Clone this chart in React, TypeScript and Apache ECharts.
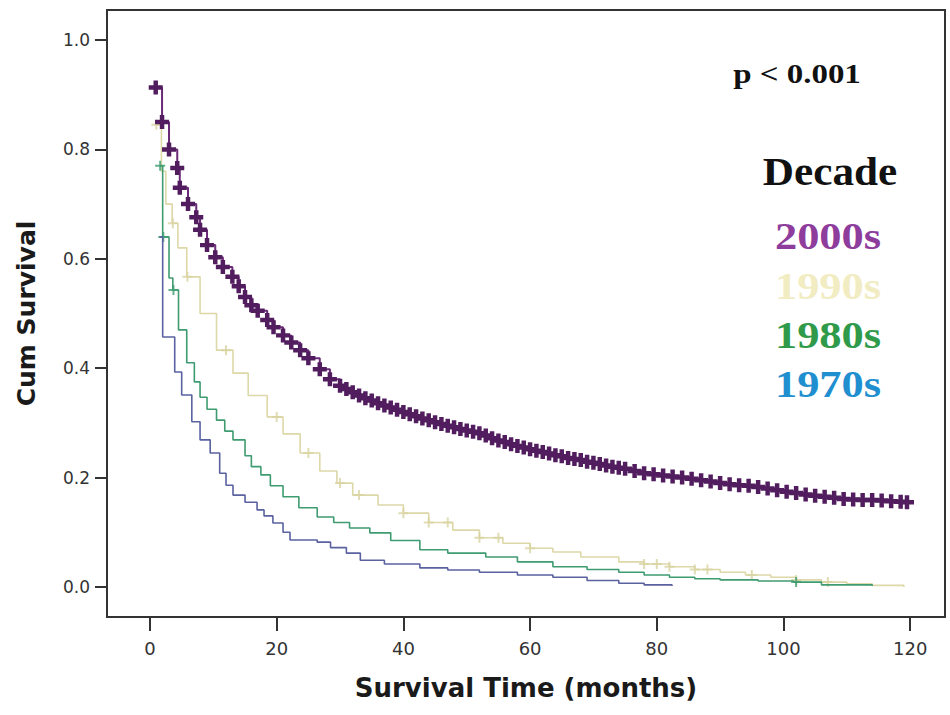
import React, { useEffect, useRef } from "react";
import * as echarts from "echarts";

// ---- Data ----
const xTicks = [0, 20, 40, 60, 80, 100, 120];
const yTicks = [0.0, 0.2, 0.4, 0.6, 0.8, 1.0];

// 2000s (censor marks at nearly every point)
const t2000 = [0.9, 1.9, 3.0, 4.3, 4.7, 6.0, 7.3, 7.9, 9.0, 10.3, 11.5, 13, 14, 15, 16, 17, 18.5, 19.5, 21, 22.3, 23.7, 25, 26.8, 28.4, 30, 31, 32, 33, 34, 35, 36, 37, 38, 39, 40, 41, 42, 43, 44, 45, 46, 47, 48, 49, 50, 51, 52, 53, 54, 55, 56, 57, 58, 59, 60, 61, 62, 63, 64, 65, 66, 67, 68, 69, 70, 71, 72, 73, 74, 75, 76.5, 78, 79.5, 81, 82.5, 84, 85.5, 87, 88.5, 90, 91.5, 93, 94.5, 96, 97.5, 99, 100.5, 102, 103.5, 105, 106.5, 108, 109.5, 111, 112.5, 114, 115.5, 117, 118.5, 119.5];
const s2000 = [0.913, 0.85, 0.80, 0.766, 0.73, 0.70, 0.676, 0.653, 0.625, 0.603, 0.585, 0.567, 0.55, 0.53, 0.515, 0.505, 0.488, 0.475, 0.46, 0.447, 0.433, 0.418, 0.398, 0.38, 0.368, 0.362, 0.356, 0.35, 0.345, 0.341, 0.336, 0.332, 0.328, 0.324, 0.32, 0.316, 0.312, 0.308, 0.305, 0.301, 0.298, 0.295, 0.292, 0.289, 0.286, 0.284, 0.281, 0.277, 0.272, 0.268, 0.265, 0.261, 0.258, 0.255, 0.252, 0.249, 0.247, 0.244, 0.241, 0.239, 0.236, 0.234, 0.232, 0.229, 0.227, 0.225, 0.222, 0.22, 0.218, 0.216, 0.212, 0.208, 0.206, 0.204, 0.202, 0.2, 0.198, 0.195, 0.193, 0.19, 0.188, 0.186, 0.185, 0.183, 0.18, 0.177, 0.174, 0.172, 0.169, 0.167, 0.165, 0.163, 0.161, 0.16, 0.159, 0.159, 0.158, 0.157, 0.156, 0.155];

// 1990s
const t1990 = [0.9, 1.8, 2.5, 3.5, 4.4, 5.8, 7.9, 10.5, 13.1, 15.5, 18.5, 21, 23.7, 26.8, 29.5, 32, 36, 40, 44, 47.8, 52, 55.7, 60, 63.6, 68, 74, 78, 82, 86, 90, 94, 98, 102, 106, 110, 114, 119];
const s1990 = [0.845, 0.76, 0.70, 0.665, 0.62, 0.567, 0.50, 0.433, 0.391, 0.35, 0.311, 0.28, 0.245, 0.212, 0.19, 0.168, 0.15, 0.135, 0.118, 0.104, 0.09, 0.08, 0.071, 0.064, 0.055, 0.046, 0.042, 0.037, 0.032, 0.027, 0.022, 0.018, 0.013, 0.009, 0.006, 0.003, 0.0];
const c1990 = [1.0, 3.6, 5.9, 12, 20, 25, 30, 33, 40, 44, 47, 52, 55, 60, 78, 80, 82, 86, 88, 95, 102, 107];

// 1980s
const t1980 = [1.5, 2.0, 3.0, 3.6, 4.5, 5.8, 7, 7.9, 9, 10.5, 11.8, 13.1, 15, 16, 17.5, 19, 21, 23.5, 26.4, 29, 31.5, 34.7, 38, 42.6, 47, 53, 58, 63.6, 69, 74, 78, 82, 86, 90, 96, 101.6, 106, 114];
const s1980 = [0.77, 0.64, 0.565, 0.543, 0.47, 0.41, 0.375, 0.347, 0.325, 0.305, 0.285, 0.269, 0.24, 0.22, 0.205, 0.185, 0.165, 0.145, 0.128, 0.118, 0.108, 0.099, 0.085, 0.068, 0.062, 0.055, 0.046, 0.037, 0.032, 0.027, 0.022, 0.018, 0.015, 0.013, 0.011, 0.009, 0.004, 0.002];
const c1980 = [1.6, 2.1, 3.7, 102];

// 1970s
const t1970 = [1.5, 2.0, 3.9, 5, 6.6, 7.9, 9.5, 11, 12, 13.1, 15, 16.9, 18, 19.4, 21, 22.1, 26.4, 28.5, 31, 33.2, 37, 42.6, 47, 52, 58, 63.6, 69, 74, 78, 82.4];
const s1970 = [0.64, 0.457, 0.393, 0.351, 0.302, 0.269, 0.245, 0.208, 0.186, 0.168, 0.155, 0.141, 0.13, 0.117, 0.1, 0.086, 0.082, 0.072, 0.062, 0.049, 0.042, 0.035, 0.031, 0.027, 0.022, 0.018, 0.012, 0.007, 0.004, 0.002];

const decades = ["2000s", "1990s", "1980s", "1970s"];
const legendColors = ["#8e3d9c", "#f1ecc2", "#2f9a4a", "#1f8fd0"];

const plus = "path://M4,0H6V4H10V6H6V10H4V6H0V4H4Z";
const boldPlus = "path://M3.4,0H6.6V3.4H10V6.6H6.6V10H3.4V6.6H0V3.4H3.4Z";

function pairs(ts: number[], ss: number[]) {
  return ts.map((t, i) => [t, ss[i]]);
}
function stepAt(ts: number[], ss: number[], t: number) {
  let v = ss[0];
  for (let i = 0; i < ts.length; i++) if (ts[i] <= t) v = ss[i];
  return v;
}
function censor(ts: number[], ss: number[], cs: number[]) {
  return cs.map((c) => [c, stepAt(ts, ss, c)]);
}

export default function App() {
  const ref = useRef<HTMLDivElement>(null);
  useEffect(() => {
    const chart = echarts.init(ref.current!, null, { renderer: "svg" });
    const lineBase = {
      type: "line",
      step: "end",
      showSymbol: false,
      symbol: "none",
      animation: false,
    };
    const legendY = [236, 286, 335, 384];
    chart.setOption({
      animation: false,
      backgroundColor: "#ffffff",
      grid: {
        left: 107,
        right: 5,
        top: 10,
        bottom: 98,
        show: true,
        borderColor: "#333",
        borderWidth: 2,
        backgroundColor: "transparent",
      },
      xAxis: {
        type: "value",
        min: -6.79,
        max: 125.5,
        axisLine: { show: false, onZero: false },
        splitLine: { show: false },
        axisTick: {
          show: true,
          customValues: xTicks,
          length: 14,
          lineStyle: { color: "#333", width: 2 },
        },
        axisLabel: {
          customValues: xTicks,
          margin: 22,
          fontSize: 18,
          fontFamily: "DejaVu Sans",
          color: "#333",
        },
        name: "Survival Time (months)",
        nameLocation: "middle",
        nameGap: 58,
        nameTextStyle: {
          fontSize: 26,
          fontWeight: "bold",
          fontFamily: "DejaVu Sans",
          color: "#1a1a1a",
        },
      },
      yAxis: {
        type: "value",
        min: -0.0548,
        max: 1.0548,
        axisLine: { show: false, onZero: false },
        splitLine: { show: false },
        axisTick: {
          show: true,
          customValues: yTicks,
          length: 12,
          lineStyle: { color: "#333", width: 2 },
        },
        axisLabel: {
          customValues: yTicks,
          margin: 17,
          fontSize: 17,
          fontFamily: "DejaVu Sans",
          color: "#333",
          formatter: (v: number) => v.toFixed(1),
        },
        name: "Cum Survival",
        nameLocation: "middle",
        nameGap: 68,
        nameTextStyle: {
          fontSize: 25,
          fontWeight: "bold",
          fontFamily: "DejaVu Sans",
          color: "#1a1a1a",
        },
      },
      series: [
        {
          ...lineBase,
          name: "1990s",
          data: pairs(t1990, s1990),
          lineStyle: { color: "#ddd8a8", width: 1.6 },
          z: 2,
        },
        {
          type: "scatter",
          data: censor(t1990, s1990, c1990),
          symbol: plus,
          symbolSize: 10,
          itemStyle: { color: "#d8d3a0" },
          z: 2,
        },
        {
          ...lineBase,
          name: "1980s",
          data: pairs(t1980, s1980),
          lineStyle: { color: "#3f9b70", width: 1.6 },
          z: 3,
        },
        {
          type: "scatter",
          data: censor(t1980, s1980, c1980),
          symbol: plus,
          symbolSize: 10,
          itemStyle: { color: "#3f9b70" },
          z: 3,
        },
        {
          ...lineBase,
          name: "1970s",
          data: pairs(t1970, s1970),
          lineStyle: { color: "#5a62a0", width: 1.6 },
          z: 4,
        },
        {
          type: "line",
          step: "end",
          name: "2000s",
          data: pairs(t2000, s2000),
          showSymbol: true,
          showAllSymbol: true,
          symbol: boldPlus,
          symbolSize: 14,
          itemStyle: { color: "#521d5f" },
          lineStyle: { color: "#6b2a78", width: 2 },
          z: 5,
        },
      ],
      graphic: [
        {
          type: "text",
          x: 797,
          y: 74,
          scaleX: 1.22,
          style: {
            text: "p < 0.001",
            fill: "#111",
            font: "bold 27px 'Liberation Serif'",
            align: "center",
            verticalAlign: "middle",
          },
        },
        {
          type: "text",
          x: 830,
          y: 172,
          scaleX: 1.08,
          style: {
            text: "Decade",
            fill: "#111",
            font: "bold 40px 'Liberation Serif'",
            align: "center",
            verticalAlign: "middle",
          },
        },
        ...decades.map((d, i) => ({
          type: "text",
          x: 828,
          y: legendY[i],
          scaleX: 1.17,
          style: {
            text: d,
            fill: legendColors[i],
            font: "bold 38px 'Liberation Serif'",
            align: "center",
            verticalAlign: "middle",
          },
        })),
      ],
    });
    return () => chart.dispose();
  }, []);
  return (
    <div
      ref={ref}
      style={{ position: "fixed", left: 0, top: 0, width: 950, height: 715, background: "#fff" }}
    />
  );
}
